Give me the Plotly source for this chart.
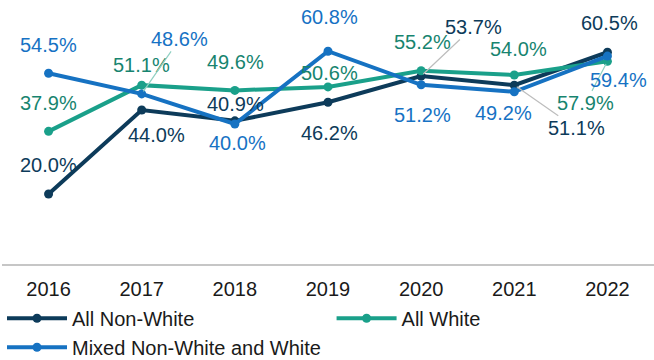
import plotly.graph_objects as go

years = ["2016", "2017", "2018", "2019", "2020", "2021", "2022"]
series_names = ["All Non-White", "All White", "Mixed Non-White and White"]
non_white = [20.0, 44.0, 40.9, 46.2, 53.7, 51.1, 60.5]
white = [37.9, 51.1, 49.6, 50.6, 55.2, 54.0, 57.9]
mixed = [54.5, 48.6, 40.0, 60.8, 51.2, 49.2, 59.4]

line_colors = ["#0d3b5a", "#1aa08a", "#1672c2"]
label_colors = ["#0d3b5a", "#17846f", "#1672c4"]
legend_ids = ["legend", "legend2", "legend"]

# pixel offsets (dx right, dy down) of each value label from its point;
# None in leader means a plain label, otherwise the leader line colour
label_offsets = [
    [(0, -29), (15, 25), (1, -17), (1, 31), (52, -49), (62, 43), (2, -29)],
    [(0, -28), (0, -20), (1, -28), (1, -14), (1, -29), (4, -26), (-22, 42)],
    [(0, -28), (38, -55), (3, 19), (1, -34), (1, 30), (-11, 21), (11, 24)],
]
leaders = [
    [None, None, None, None, "#bdbdbd", "#bdbdbd", None],
    [None, None, None, None, None, None, "#8fd0c2"],
    [None, "#8fd0c2", None, None, None, None, None],
]

FONT = "Liberation Sans, Arial, sans-serif"
values = [non_white, white, mixed]

fig = go.Figure()
for name, vals, color, lg in zip(series_names, values, line_colors, legend_ids):
    fig.add_trace(go.Scatter(
        x=years, y=vals, name=name, mode="lines+markers",
        line=dict(color=color, width=4),
        marker=dict(color=color, size=9),
        cliponaxis=False, legend=lg,
    ))

annotations = []
for vals, offs, leads, tcolor in zip(values, label_offsets, leaders, label_colors):
    for i, (v, (dx, dy), lead) in enumerate(zip(vals, offs, leads)):
        ann = dict(
            x=i, y=v, xref="x", yref="y", text=f"{v:.1f}%",
            font=dict(family=FONT, size=20, color=tcolor),
        )
        if lead is None:
            ann.update(showarrow=False, xshift=dx, yshift=-dy)
        else:
            ann.update(showarrow=True, arrowhead=0, arrowwidth=1.2,
                       arrowcolor=lead, ax=dx, ay=dy, standoff=3)
        annotations.append(ann)

legend_style = dict(
    orientation="v", xanchor="left", yref="container", y=0.17, yanchor="top",
    itemwidth=60, font=dict(family=FONT, size=20, color="#1a1a1a"),
    bgcolor="rgba(0,0,0,0)", tracegroupgap=0, itemclick=False,
)

fig.update_layout(
    width=654, height=360,
    margin=dict(l=2, r=0, t=19, b=96, autoexpand=False),
    paper_bgcolor="white", plot_bgcolor="white",
    font=dict(family=FONT, size=20, color="#1a1a1a"),
    showlegend=True,
    legend=dict(x=0.0, xref="paper", **legend_style),
    legend2=dict(x=0.507, xref="container", **legend_style),
    annotations=annotations,
)
fig.update_xaxes(
    type="category", range=[-0.5, 6.5], showgrid=False,
    showline=True, linecolor="#c6c6c6", linewidth=1.5,
    ticks="outside", ticklen=6, tickcolor="rgba(0,0,0,0)",
    tickfont=dict(family=FONT, size=20, color="#1a1a1a"),
)
fig.update_yaxes(range=[0, 70], visible=False, showgrid=False, zeroline=False)

fig.write_html("out.html")
